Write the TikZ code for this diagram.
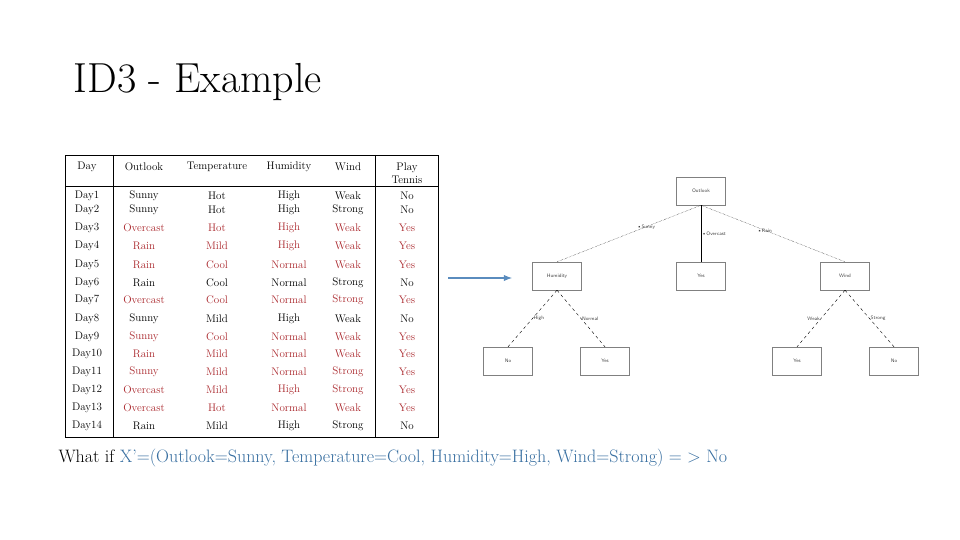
\documentclass[tikz,border=0pt]{standalone}
\usepackage{tikz}
\usetikzlibrary{arrows.meta}
\definecolor{rowred}{RGB}{170,40,45}
\definecolor{qblue}{RGB}{55,110,160}
\definecolor{arrblue}{RGB}{90,140,190}
\begin{document}
\begin{tikzpicture}[x=1pt,y=-1pt,
    cell/.style={font=\fontsize{11}{12.5}\selectfont,inner sep=0pt},
    red cell/.style={cell,rowred},
    leaf/.style={draw=gray,thin,minimum width=49pt,minimum height=28pt,font=\fontsize{5}{6}\sffamily,text=darkgray},
    blab/.style={font=\fontsize{5}{6}\sffamily,text=darkgray,inner sep=1pt}]

    \useasboundingbox (0,0) rectangle (960,540);

    %%%%%%%%%%%%%%%%%%%%%%%%%%%%%%%%%%%%%%%%%%%%%%%%%%%%%%

    % title
    \node[anchor=west,font=\fontsize{42}{48}\selectfont] (title) at (70,82) {ID3 - Example};

    %%%%%%%%%%%%%%%%%%%%%%%%%%%%%%%%%%%%%%%%%%%%%%%%%%%%%%

    % table frame
    \draw[thick] (65,155) rectangle (438,437);
    \draw (113,155) -- (113,437);
    \draw[thick] (375,155) -- (375,437);
    \draw (65,186) -- (438,186);

    % header
    \node[cell] (hday) at (87,167) {Day};
    \node[cell] (hout) at (144,167) {Outlook};
    \node[cell] (htem) at (217,167) {Temperature};
    \node[cell] (hhum) at (289,167) {Humidity};
    \node[cell] (hwin) at (348,167) {Wind};
    \node[cell,align=center] (hpla) at (407,173) {Play\\Tennis};

    % rows
    \foreach \d/\y/\s/\o/\t/\h/\w/\p in {
        1/196/cell/Sunny/Hot/High/Weak/No,
        2/210/cell/Sunny/Hot/High/Strong/No,
        3/228/red cell/Overcast/Hot/High/Weak/Yes,
        4/246/red cell/Rain/Mild/High/Weak/Yes,
        5/265/red cell/Rain/Cool/Normal/Weak/Yes,
        6/283/cell/Rain/Cool/Normal/Strong/No,
        7/300/red cell/Overcast/Cool/Normal/Strong/Yes,
        8/319/cell/Sunny/Mild/High/Weak/No,
        9/337/red cell/Sunny/Cool/Normal/Weak/Yes,
        10/354/red cell/Rain/Mild/Normal/Weak/Yes,
        11/372/red cell/Sunny/Mild/Normal/Strong/Yes,
        12/390/red cell/Overcast/Mild/High/Strong/Yes,
        13/408/red cell/Overcast/Hot/Normal/Weak/Yes,
        14/426/cell/Rain/Mild/High/Strong/No}{
        \node[cell] (day\d) at (87,\y) {Day\d};
        \node[\s] (out\d) at (144,\y) {\o};
        \node[\s] (tem\d) at (217,\y) {\t};
        \node[\s] (hum\d) at (289,\y) {\h};
        \node[\s] (win\d) at (348,\y) {\w};
        \node[\s] (pla\d) at (407,\y) {\p};
    }

    %%%%%%%%%%%%%%%%%%%%%%%%%%%%%%%%%%%%%%%%%%%%%%%%%%%%%%

    % arrow to the tree
    \coordinate (arrs) at (448,278);
    \node[leaf] (humidity) at (557,276) {Humidity};
    \draw[-{Latex},arrblue,line width=1.2pt] (arrs) -- ([xshift=-20pt,yshift=-2pt]humidity.west);

    % tree nodes
    \node[leaf] (outlook) at (701,191) {Outlook};
    \node[leaf] (yesmid) at (701,276) {Yes};
    \node[leaf] (wind) at (845,276) {Wind};
    \node[leaf] (noleft) at (508,361) {No};
    \node[leaf] (yesleft) at (605,361) {Yes};
    \node[leaf] (yesright) at (797,361) {Yes};
    \node[leaf] (noright) at (894,361) {No};

    % branches
    \draw[densely dotted] (outlook.south) -- (humidity.north) node[blab,pos=0.45,above right] {\textbullet Sunny};
    \draw (outlook.south) -- (yesmid.north) node[blab,midway,right] {\textbullet Overcast};
    \draw[densely dotted] (outlook.south) -- (wind.north) node[blab,pos=0.5,above left] {\textbullet Rain};
    \draw[dashed] (humidity.south) -- (noleft.north) node[blab,midway,right] {High};
    \draw[dashed] (humidity.south) -- (yesleft.north) node[blab,midway,right] {Normal};
    \draw[dashed] (wind.south) -- (yesright.north) node[blab,midway,left] {Weak};
    \draw[dashed] (wind.south) -- (noright.north) node[blab,midway,right] {Strong};

    %%%%%%%%%%%%%%%%%%%%%%%%%%%%%%%%%%%%%%%%%%%%%%%%%%%%%%

    % query
    \node[anchor=west,font=\fontsize{18}{21}\selectfont] (query) at (55,458)
        {What if \textcolor{qblue}{X'=(Outlook=Sunny, Temperature=Cool, Humidity=High, Wind=Strong) = > No}};

\end{tikzpicture}
\end{document}
